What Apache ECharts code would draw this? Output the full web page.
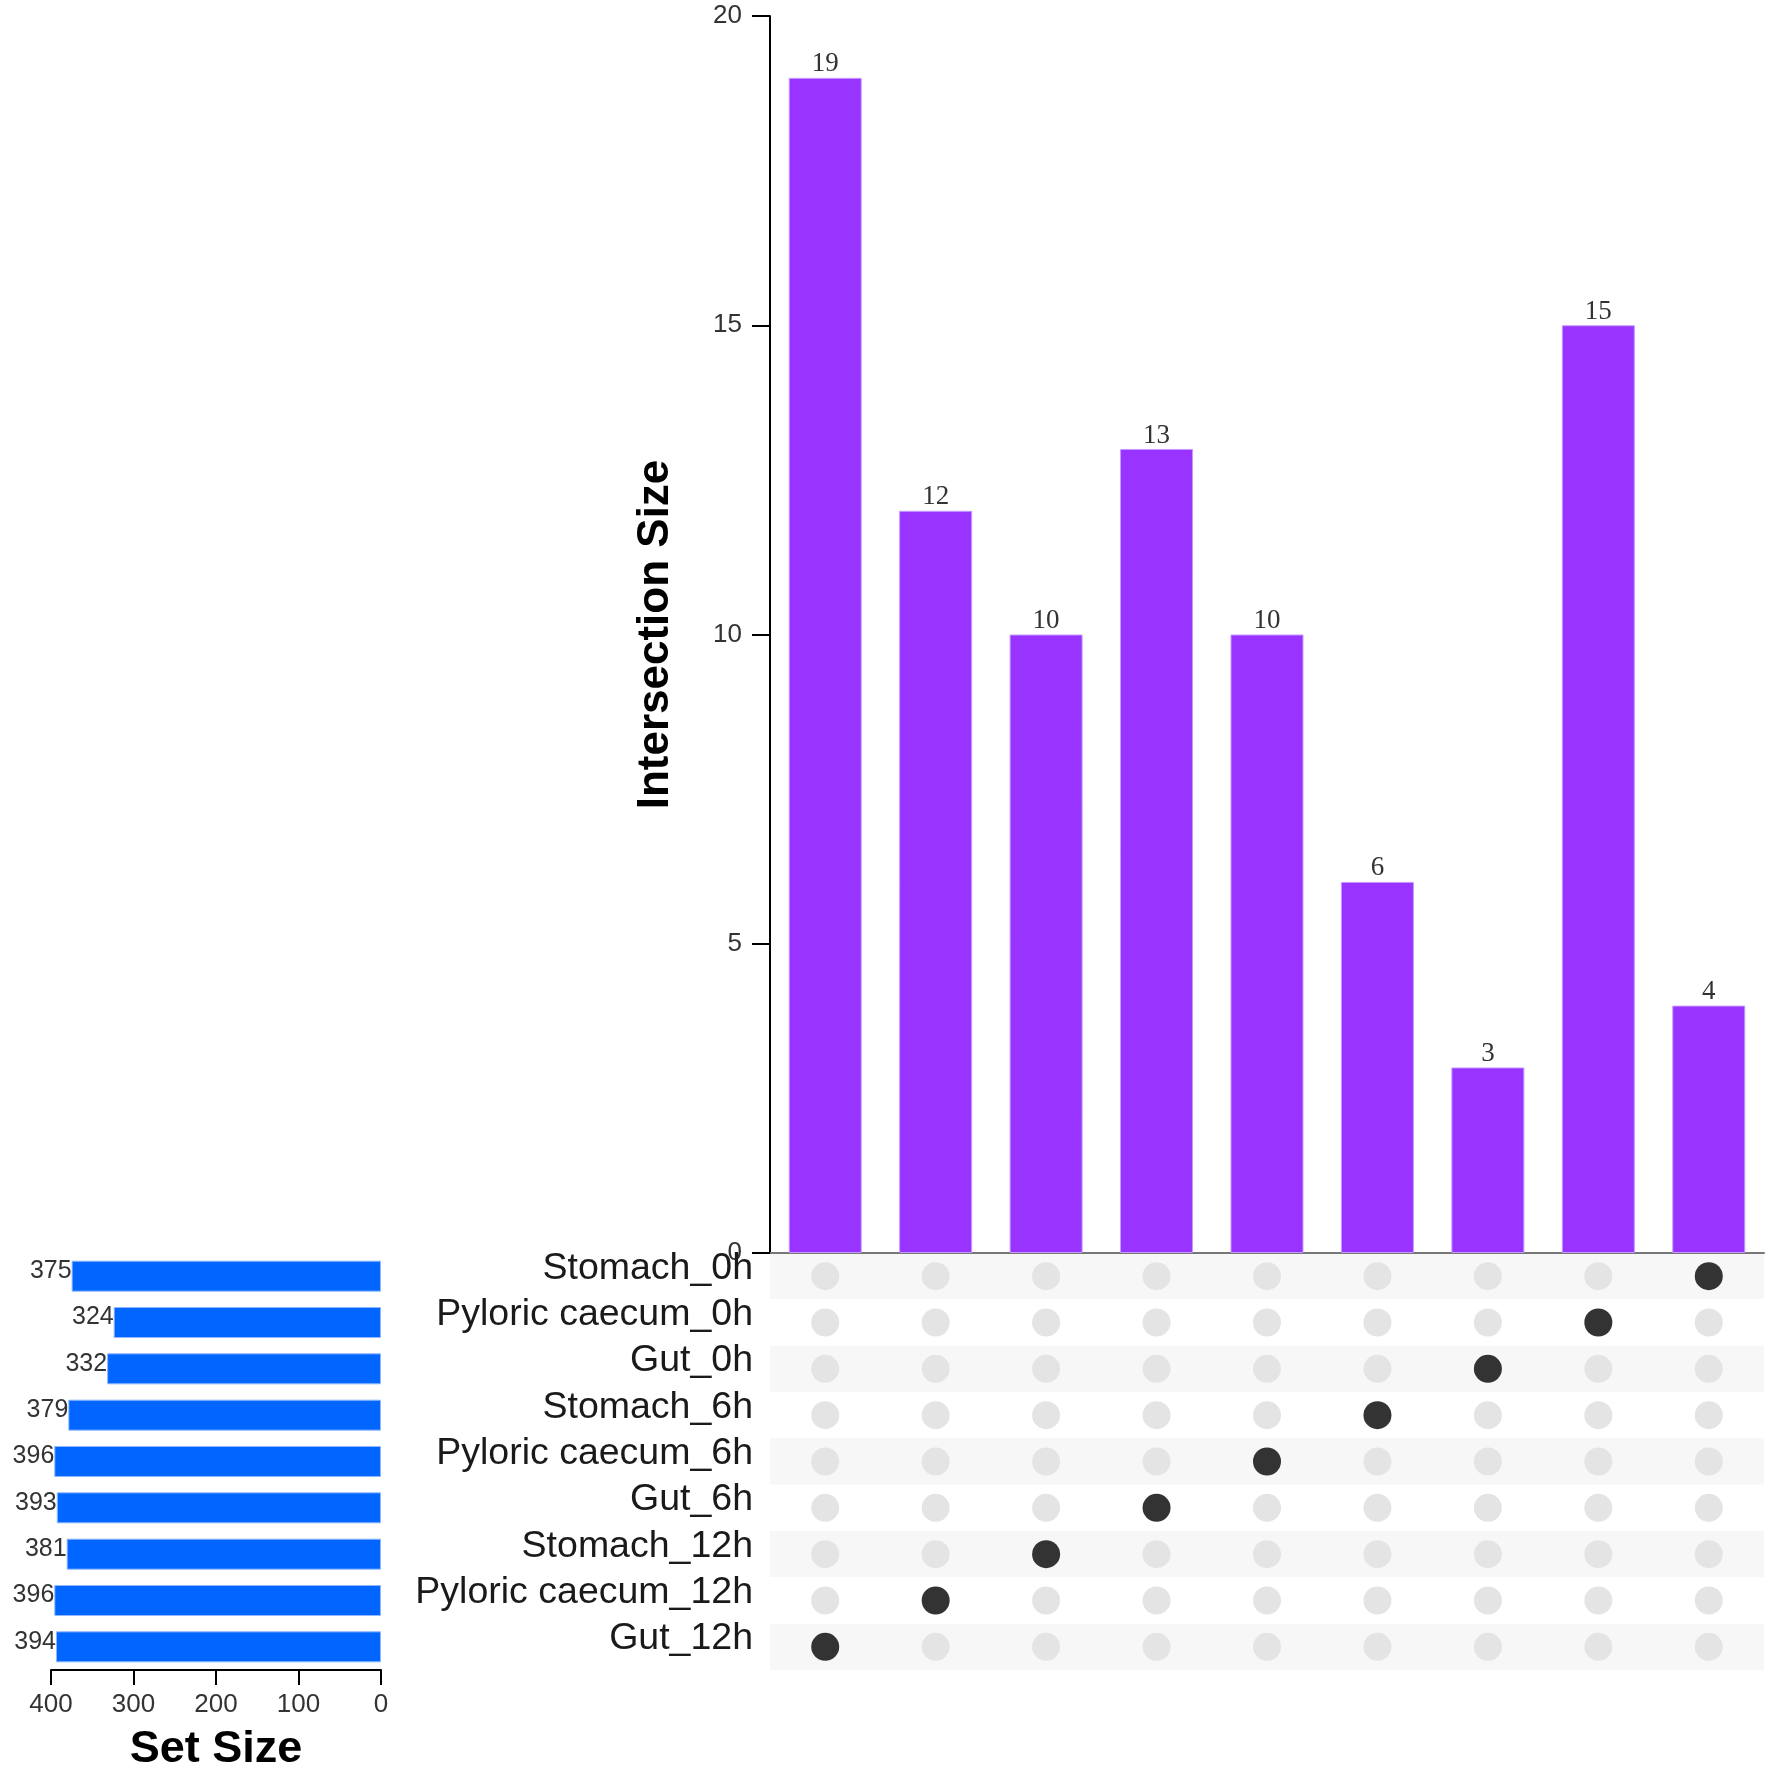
<!DOCTYPE html>
<html>
<head>
<meta charset="utf-8">
<script src="https://cdn.jsdelivr.net/npm/echarts@6/dist/echarts.min.js"></script>
<style>
html,body{margin:0;padding:0;background:#fff;}
#chart{width:1772px;height:1774px;}
</style>
</head>
<body>
<div id="chart"></div>
<script>
// ---- data ----
const sets = ['Stomach_0h','Pyloric caecum_0h','Gut_0h','Stomach_6h','Pyloric caecum_6h','Gut_6h','Stomach_12h','Pyloric caecum_12h','Gut_12h'];
const setSizes = [375,324,332,379,396,393,381,396,394];
// each intersection column is the exclusive intersection of one set
const intersectionSets = ['Gut_12h','Pyloric caecum_12h','Stomach_12h','Gut_6h','Pyloric caecum_6h','Stomach_6h','Gut_0h','Pyloric caecum_0h','Stomach_0h'];
const intersectionSizes = [19,12,10,13,10,6,3,15,4];
const intersectionTicks = [0,5,10,15,20];
const setSizeTicks = [0,100,200,300,400];

// ---- derived ----
const colIdx = intersectionSets.map((s,i)=>i);
const emptyDots = [];
const filledDots = [];
intersectionSets.forEach((s,c)=>{
  sets.forEach((r,ri)=>{
    if (r === s) filledDots.push([c, ri]); else emptyDots.push([c, ri]);
  });
});

const chart = echarts.init(document.getElementById('chart'), null, {renderer:'canvas'});
const GL = 770, GR = 8;
const option = {
  backgroundColor:'#fff',
  animation:false,
  grid:[
    {left:GL, right:GR, top:16, height:1237},
    {left:GL, right:GR, top:1253, height:417},
    {left:51, width:330, top:1253, height:417}
  ],
  xAxis:[
    {gridIndex:0, type:'category', data:colIdx, axisTick:{show:false}, axisLabel:{show:false},
     axisLine:{lineStyle:{color:'#777', width:2}}},
    {gridIndex:1, type:'category', data:colIdx, show:false},
    {gridIndex:2, type:'value', inverse:true, min:setSizeTicks[0], max:setSizeTicks[setSizeTicks.length-1], interval:100,
     position:'bottom', splitLine:{show:false},
     axisLine:{show:true, lineStyle:{color:'#000', width:2}},
     axisTick:{show:true, length:15, lineStyle:{color:'#000', width:2}},
     axisLabel:{fontFamily:'Liberation Sans', fontSize:26, color:'#333', margin:22},
     name:'Set Size', nameLocation:'middle', nameGap:57,
     nameTextStyle:{fontFamily:'Liberation Sans', fontWeight:'bold', fontSize:45, color:'#000'}}
  ],
  yAxis:[
    {gridIndex:0, type:'value', min:intersectionTicks[0], max:intersectionTicks[intersectionTicks.length-1], interval:5,
     splitLine:{show:false},
     axisLine:{show:true, lineStyle:{color:'#000', width:2}},
     axisTick:{show:true, length:18, lineStyle:{color:'#000', width:2}},
     axisLabel:{fontFamily:'Liberation Sans', fontSize:26, color:'#333', margin:28},
     name:'Intersection Size', nameLocation:'middle', nameRotate:90, nameGap:92,
     nameTextStyle:{fontFamily:'Liberation Sans', fontWeight:'bold', fontSize:44, color:'#000'}},
    {gridIndex:1, type:'category', data:sets, inverse:true,
     axisLine:{show:false}, axisTick:{show:false},
     splitArea:{show:true, interval:0, areaStyle:{color:['#f7f7f7','#ffffff']}},
     axisLabel:{interval:0, fontFamily:'Liberation Sans', fontSize:37.5, color:'#1a1a1a', margin:17,
                verticalAlign:'bottom', lineHeight:16}},
    {gridIndex:2, type:'category', data:sets, inverse:true, show:false}
  ],
  series:[
    {type:'bar', xAxisIndex:0, yAxisIndex:0, data:intersectionSizes, barWidth:73,
     itemStyle:{color:'#9933ff', borderColor:'#c49bff', borderWidth:1},
     label:{show:true, position:'top', distance:0, fontFamily:'Liberation Serif', fontSize:27, color:'#333'}},
    {type:'scatter', xAxisIndex:1, yAxisIndex:1, data:emptyDots, symbolSize:28,
     itemStyle:{color:'#e4e4e4', opacity:1}, silent:true},
    {type:'scatter', xAxisIndex:1, yAxisIndex:1, data:filledDots, symbolSize:28,
     itemStyle:{color:'#333333', opacity:1}, silent:true},
    {type:'bar', xAxisIndex:2, yAxisIndex:2, data:setSizes, barWidth:31,
     itemStyle:{color:'#0066ff', borderColor:'#8fb8ff', borderWidth:1},
     label:{show:true, position:'left', distance:0, offset:[0,-5], fontFamily:'Liberation Sans', fontSize:25, color:'#333'}}
  ]
};
chart.setOption(option);
</script>
</body>
</html>
